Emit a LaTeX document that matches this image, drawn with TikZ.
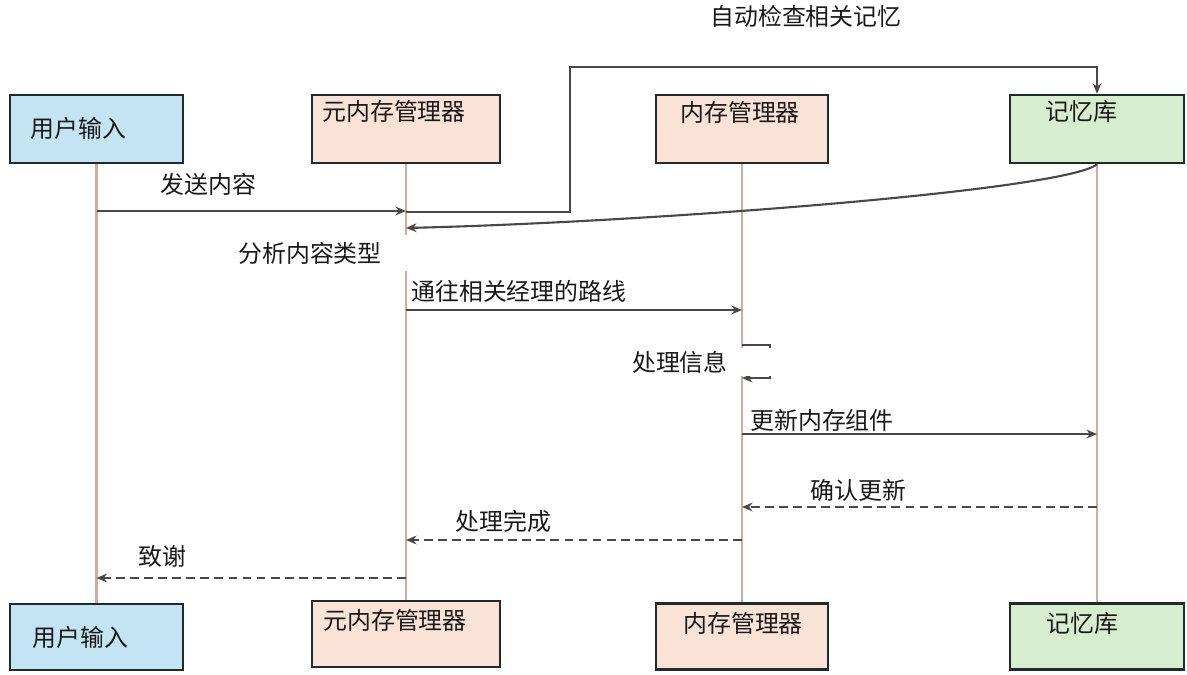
\documentclass[tikz,border=0pt]{standalone}
\usepackage{fontspec}
\setmainfont{Noto Sans CJK SC}
\usetikzlibrary{arrows.meta, positioning, calc}

\definecolor{userblue}{RGB}{196,228,243}
\definecolor{peach}{RGB}{250,226,214}
\definecolor{memgreen}{RGB}{214,238,207}
\definecolor{boxline}{RGB}{32,42,42}
\definecolor{lifeline}{RGB}{212,170,152}
\definecolor{msggray}{RGB}{72,72,72}

\begin{document}
\begin{tikzpicture}[
    x=0.02cm, y=-0.02cm,
    actor/.style={rectangle, draw=boxline, line width=1.4pt, minimum height=1.36cm, inner sep=0pt},
    txt/.style={anchor=west, inner sep=0pt, text=black!90, font=\fontsize{13.6}{16}\selectfont},
    life/.style={draw=lifeline, line width=1.6pt},
    msg/.style={->, >={Stealth[length=6pt, width=5pt]}, draw=msggray, line width=1.2pt},
    reply/.style={msg, dashed, dash pattern=on 5pt off 3pt}
]
\useasboundingbox (0,0) rectangle (1187,675);

% participants, top row
\node[actor, fill=userblue, minimum width=3.46cm] (user-top) at (96.5,129) {};
\node[actor, fill=peach, minimum width=3.76cm] (meta-top) at (406,129) {};
\node[actor, fill=peach, minimum width=3.44cm] (mgr-top) at (742,129) {};
\node[actor, fill=memgreen, minimum width=3.48cm] (mem-top) at (1097,129) {};

% participants, bottom row
\node[actor, fill=userblue, minimum width=3.46cm, minimum height=1.32cm] (user-bot) at (96.5,637) {};
\node[actor, fill=peach, minimum width=3.76cm, minimum height=1.32cm] (meta-bot) at (406,634) {};
\node[actor, fill=peach, minimum width=3.44cm, minimum height=1.32cm] (mgr-bot) at (742,636.5) {};
\node[actor, fill=memgreen, minimum width=3.48cm, minimum height=1.32cm] (mem-bot) at (1097,636.5) {};

\node[txt] (user-top-t) at (30,128) {用户输入};
\node[txt] (meta-top-t) at (322,111) {元内存管理器};
\node[txt] (mgr-top-t) at (680,112) {内存管理器};
\node[txt] (mem-top-t) at (1045,111) {记忆库};
\node[txt] (user-bot-t) at (32,637) {用户输入};
\node[txt] (meta-bot-t) at (323,620) {元内存管理器};
\node[txt] (mgr-bot-t) at (683,623) {内存管理器};
\node[txt] (mem-bot-t) at (1046,623) {记忆库};

% lifelines
\foreach \p in {user, meta, mgr, mem}
    \draw[life] (\p-top.south) -- (\p-bot.north);

% messages
\draw[msg] (user-top.south |- 0,211) -- (meta-top.south |- 0,211);
\node[txt] (send-t) at (160,184) {发送内容};

\draw[msg] (meta-top.south |- 0,212) -| (570,67) -| (mem-top.north);
\node[txt] (check-t) at (710,16) {自动检查相关记忆};

\draw[msg] (mem-top.south) .. controls (1067,190) and (655,222) .. (meta-top.south |- 0,228);
\node[txt, fill=white, text width=100pt, minimum height=21pt] (analyse-t) at (238,253) {分析内容类型};

\draw[msg] (meta-top.south |- 0,310) -- (mgr-top.south |- 0,310);
\node[txt] (route-t) at (411,291) {通往相关经理的路线};

\draw[msg] (mgr-top.south |- 0,345) -- ++(28,0) -- ++(0,33) -- ++(-28,0);
\node[txt, fill=white, text width=96pt, minimum height=16pt] (process-t) at (630,362) {\hspace{1pt}处理信息};

\draw[msg] (mgr-top.south |- 0,434) -- (mem-top.south |- 0,434);
\node[txt] (update-t) at (750,420) {更新内存组件};

\draw[reply] (mem-top.south |- 0,507) -- (mgr-top.south |- 0,507);
\node[txt] (confirm-t) at (810,490) {确认更新};

\draw[reply] (mgr-top.south |- 0,540) -- (meta-top.south |- 0,540);
\node[txt] (done-t) at (455,521) {处理完成};

\draw[reply] (meta-top.south |- 0,578) -- (user-top.south |- 0,578);
\node[txt] (thanks-t) at (138,556) {致谢};

\end{tikzpicture}
\end{document}
